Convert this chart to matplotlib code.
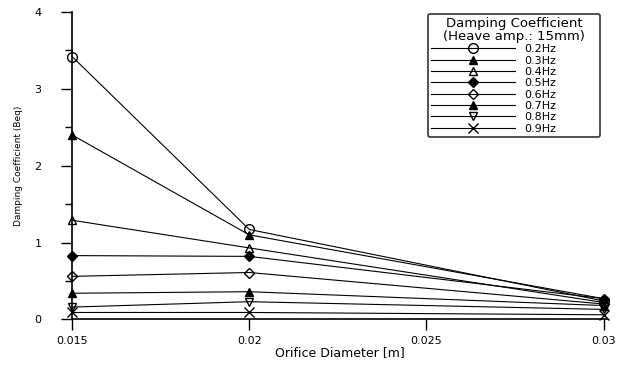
import numpy as np
import matplotlib
matplotlib.use("Agg")
import matplotlib.pyplot as plt
from matplotlib.ticker import MultipleLocator

plt.rcParams["font.family"] = ["DejaVu Sans"]

diameter = [0.015, 0.02, 0.03]
labels = ["0.2Hz", "0.3Hz", "0.4Hz", "0.5Hz", "0.6Hz", "0.7Hz", "0.8Hz", "0.9Hz"]
b_02 = [3.42, 1.17, 0.24]
b_03 = [2.40, 1.10, 0.27]
b_04 = [1.29, 0.93, 0.22]
b_05 = [0.83, 0.82, 0.27]
b_06 = [0.56, 0.61, 0.20]
b_07 = [0.34, 0.36, 0.18]
b_08 = [0.16, 0.23, 0.13]
b_09 = [0.09, 0.09, 0.06]
series = [b_02, b_03, b_04, b_05, b_06, b_07, b_08, b_09]

markers = ["o", "^", "^", "D", "D", "^", "v", "x"]
filled = [False, True, False, True, False, True, False, True]
msizes = [7, 6, 6, 5, 5, 6, 6, 7]

fig = plt.figure(figsize=(6.33, 3.65), dpi=100)
ax = fig.add_axes([0.114, 0.125, 0.845, 0.842])

for y, lab, m, f, ms in zip(series, labels, markers, filled, msizes):
    ax.plot(diameter, y, color="black", lw=0.8, marker=m, ms=ms,
            mfc="black" if f else "none", mec="black", mew=1.0,
            label=lab, clip_on=False, zorder=3)

ax.set_xlim(0.015, 0.0301)
ax.set_ylim(0, 4)
ax.set_xticks([0.015, 0.02, 0.025, 0.03])
ax.set_xticklabels(["0.015", "0.02", "0.025", "0.03"])
ax.yaxis.set_major_locator(MultipleLocator(1))
ax.yaxis.set_minor_locator(MultipleLocator(0.5))
ax.spines["top"].set_visible(False)
ax.spines["right"].set_visible(False)
ax.spines["left"].set_linewidth(1.2)
ax.spines["bottom"].set_linewidth(1.2)
ax.tick_params(axis="both", which="major", labelsize=8, direction="out", length=8, width=1)
ax.tick_params(axis="y", which="minor", direction="out", length=5, width=1)
ax.tick_params(axis="y", pad=14)
ax.tick_params(axis="x", pad=4)
ax.set_xlabel("Orifice Diameter [m]", fontsize=9, labelpad=0)
ax.set_ylabel("Damping Coefficient (Beq)", fontsize=6.5, labelpad=8)

leg = ax.legend(loc="upper left", bbox_to_anchor=(0.665, 0.995, 0.322, 0.0),
                mode="expand", fontsize=8,
                title="Damping Coefficient\n(Heave amp.: 15mm)",
                title_fontsize=9.5, handlelength=7.5, labelspacing=0.12,
                handletextpad=0.9, frameon=True, fancybox=True,
                edgecolor="black", borderpad=0.3, borderaxespad=0)
leg.get_frame().set_linewidth(1.2)
leg.get_title().set_multialignment("center")
leg.get_title().set_linespacing(1.0)

fig.savefig("out.png", dpi=100)
